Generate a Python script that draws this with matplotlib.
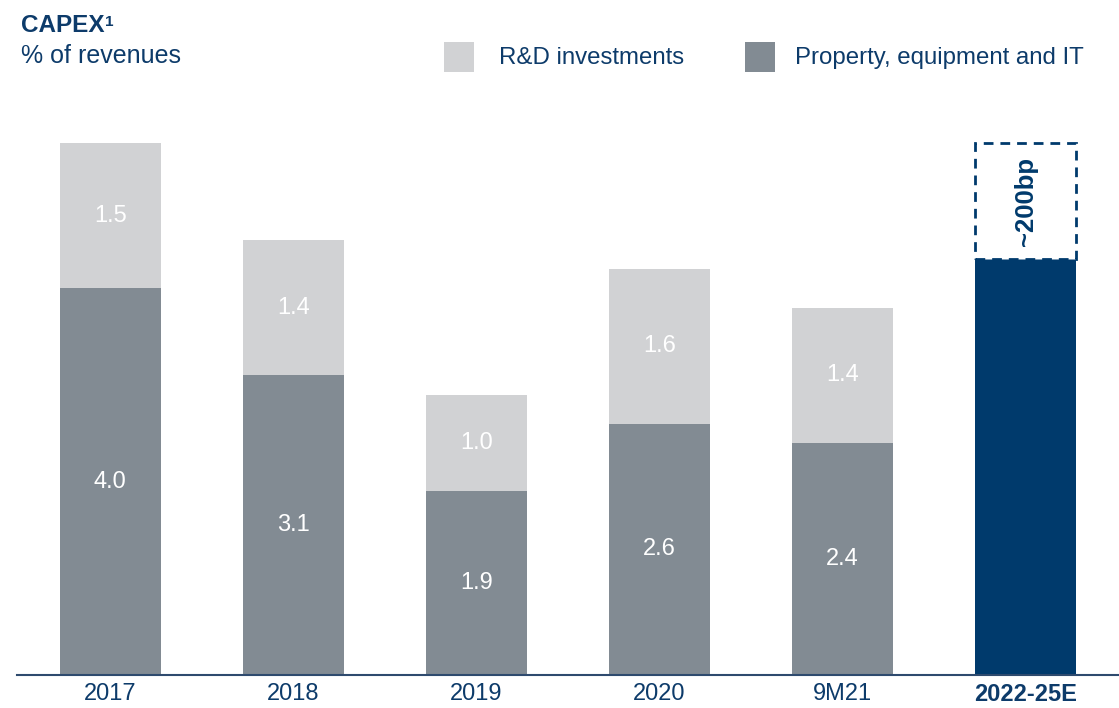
import matplotlib.pyplot as plt
from matplotlib.patches import Rectangle

plt.rcParams['font.family'] = ['Liberation Sans', 'DejaVu Sans']

categories = ["2017", "2018", "2019", "2020", "9M21", "2022-25E"]
property_it = [4.0, 3.1, 1.9, 2.6, 2.4]
rd_invest = [1.5, 1.4, 1.0, 1.6, 1.4]
outlook_base = [3.0, 1.3]   # 2022-25E bar, two navy parts
outlook_extra = 1.2          # ~200bp dashed box
outlook_label = "~200bp"

navy = "#003A6C"
text_col = "#0D3B6A"
dark_grey = "#828B93"
light_grey = "#D1D2D4"

fig = plt.figure(figsize=(11.19, 7.08), dpi=100)
ax = fig.add_axes([17 / 1119, 1 - 675 / 708, 1102 / 1119, 580 / 708])

w = 0.555
x = list(range(len(categories)))

ax.bar(x[:5], property_it, width=w, color=dark_grey, zorder=2)
ax.bar(x[:5], rd_invest, bottom=property_it, width=w, color=light_grey, zorder=2)
for i in range(5):
    ax.text(i, property_it[i] / 2, f"{property_it[i]:.1f}", ha="center", va="center",
            color="white", fontsize=17)
    ax.text(i, property_it[i] + rd_invest[i] / 2, f"{rd_invest[i]:.1f}", ha="center",
            va="center", color="white", fontsize=17)

# outlook bar
ax.bar(x[5], outlook_base[0], width=w, color=navy, zorder=2)
ax.bar(x[5], outlook_base[1], bottom=outlook_base[0], width=w, color=navy, zorder=2)
top = sum(outlook_base)
ax.add_patch(Rectangle((x[5] - w / 2, top), w, outlook_extra, facecolor="white",
                       edgecolor=navy, linestyle=(0, (3.5, 2.5)), linewidth=2, zorder=3))
ax.text(x[5], top + outlook_extra / 2, outlook_label, rotation=90, ha="center", va="center",
        color=navy, fontsize=18.5, fontweight="bold", zorder=4)

ax.set_xlim(-0.51, 5.51)
ax.set_ylim(0, 6.0)
ax.set_xticks(x)
ax.set_xticklabels(categories, fontsize=17, color=text_col)
ax.get_xticklabels()[-1].set_fontweight("bold")
ax.tick_params(axis="x", length=0, pad=6)
ax.set_yticks([])
for s in ["top", "right", "left"]:
    ax.spines[s].set_visible(False)
ax.spines["bottom"].set_color("#2E4A6E")
ax.spines["bottom"].set_linewidth(1.5)
ax.spines["bottom"].set_zorder(5)

# title
t = fig.text(21 / 1119, 1 - 32 / 708, "CAPEX", fontsize=17.5, fontweight="bold",
             color=text_col, va="baseline")
ax.annotate("1", xy=(1, 1), xycoords=t, xytext=(0.5, -1), textcoords="offset points",
            ha="left", va="top", fontsize=11, fontweight="bold", color=text_col)
fig.text(21 / 1119, 1 - 63 / 708, "% of revenues", fontsize=18, color=text_col,
         va="baseline")

# legend
legend_items = [("R&D investments", light_grey, 444, 499),
                ("Property, equipment and IT", dark_grey, 745, 795)]
for label, col, px, tx in legend_items:
    fig.add_artist(Rectangle((px / 1119, 1 - 72 / 708), 30 / 1119, 30 / 708,
                             transform=fig.transFigure, facecolor=col, edgecolor="none"))
    fig.text(tx / 1119, 1 - 58 / 708, label, fontsize=17.3, color=text_col, va="center")

fig.savefig("out.png", dpi=100)
